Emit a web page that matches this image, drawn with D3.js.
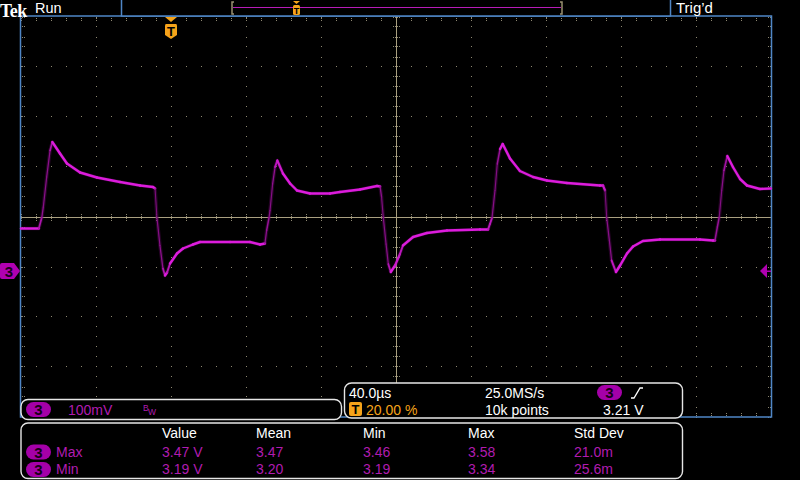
<!DOCTYPE html>
<html><head><meta charset="utf-8">
<script src="https://cdn.jsdelivr.net/npm/d3@7"></script>
<style>html,body{margin:0;background:#000;overflow:hidden}svg{display:block}</style>
</head><body>
<svg id="c" width="800" height="480"></svg>
<script>
// ---- data ----
const timeUs = [-80,-70.5,-68.9,-68.1,-66.3,-64.5,-63.3,-59.2,-55.5,-48.5,-39.5,-27.2,-16.5,-9.6,-8.5,-7.5,-5.9,-4.3,-3.2,-2.1,-0.5,3.2,6.4,11.7,15.5,31.5,42.1,47.5,50.1,51,52.3,52.8,54.2,55.5,56.7,59.7,63.5,67.2,74.1,84.8,90.1,100.8,109.9,111.5,112.3,113.2,114.7,115.9,117.2,119.5,122.1,123.7,129.1,136.5,147.2,164.8,169.1,170.1,171.2,172.8,174,175.5,176.9,180.8,186.1,193.1,200.5,211.2,228.8,230.4,231.5,232.4,233.8,235,237.3,239.5,243.2,246.4,251.7,260.8,282.1,289.1,290.1,291.4,292.4,293.7,294.9,296.7,299.7,303.5,307.2,314.1,320];
const volts = [3.294,3.294,3.316,3.337,3.397,3.45,3.467,3.444,3.424,3.406,3.396,3.387,3.38,3.377,3.374,3.316,3.26,3.214,3.20,3.206,3.224,3.244,3.254,3.262,3.267,3.267,3.267,3.262,3.264,3.29,3.316,3.33,3.383,3.417,3.43,3.404,3.384,3.37,3.364,3.364,3.367,3.372,3.379,3.378,3.357,3.317,3.263,3.223,3.207,3.22,3.243,3.26,3.277,3.285,3.29,3.292,3.292,3.303,3.315,3.37,3.423,3.453,3.463,3.434,3.409,3.397,3.39,3.385,3.38,3.38,3.37,3.315,3.27,3.23,3.207,3.22,3.244,3.258,3.269,3.272,3.272,3.27,3.27,3.297,3.317,3.37,3.41,3.439,3.417,3.393,3.38,3.373,3.374];
const timeDomain = [-80, 320];      // 40 µs/div, 10 div, trigger at 20 %
const voltDomain = [2.918, 3.718];  // 100 mV/div, 8 div
const timePerDiv = 40, voltPerDiv = 0.1;
const triggerTime = 0, triggerLevel = 3.21;
const measHeaders = ["Value","Mean","Min","Max","Std Dev"];
const measNames = ["Max","Min"];
const measRows = [["3.47 V","3.47","3.46","3.58","21.0m"],["3.19 V","3.20","3.19","3.34","25.6m"]];
const chScale = "100mV", horizScale = "40.0\u00b5s", trigPos = "20.00 %", sampleRate = "25.0MS/s", recLen = "10k points", trigLevelTxt = "3.21 V";

// ---- layout ----
const L = 21, R = 771, T = 16.5, B = 416.5;
const svg = d3.select("#c");
svg.append("rect").attr("width",800).attr("height",480).attr("fill","#000");
const x = d3.scaleLinear().domain(timeDomain).range([L, R]);
const y = d3.scaleLinear().domain(voltDomain).range([B, T]);
const FONT = "'Liberation Sans', Arial, sans-serif";
const DOT = "#8e8872", CEN = "#a99f80", BLUE = "#4f86c6", MAG = "#b01cb0", ORG = "#f5a31a";

const g = svg.append("g");
const xDivs = d3.range(timeDomain[0], timeDomain[1] + 1e-9, timePerDiv);
const yDivs = d3.range(0, 9).map(i => voltDomain[0] + i * voltPerDiv);
const xMinor = d3.range(timeDomain[0], timeDomain[1] + 1e-9, timePerDiv / 5);
const yMinor = d3.range(0, 41).map(i => voltDomain[0] + i * voltPerDiv / 5);
const cx = Math.round(x((timeDomain[0]+timeDomain[1])/2)), cy = y((voltDomain[0]+voltDomain[1])/2);
const dots = [];
xDivs.slice(1, -1).forEach(t => { const px = Math.round(x(t)); if (px === cx) return;
  yMinor.forEach(v => dots.push([px, Math.round(y(v))])); });
yDivs.slice(1, -1).forEach(v => { const py = Math.round(y(v)); if (Math.abs(py - cy) < 1) return;
  xMinor.forEach(t => dots.push([Math.round(x(t)), py])); });
xMinor.forEach(t => { const px = Math.round(x(t)); dots.push([px, 18],[px, 20],[px, 413],[px, 415]); });
yMinor.forEach(v => { const py = Math.round(y(v)); dots.push([22, py],[24, py],[768, py],[770, py]); });
xMinor.forEach(t => { const px = Math.round(x(t)); [-3,-1,1,3].forEach(d => dots.push([px, Math.round(cy)+d])); });
yMinor.forEach(v => { const py = Math.round(y(v)); [-3,-1,1,3].forEach(d => dots.push([cx+d, py])); });
g.selectAll("rect.d").data(dots).join("rect").attr("x", d => d[0]).attr("y", d => d[1])
  .attr("width",1).attr("height",1).attr("fill",DOT);
g.append("line").attr("x1",cx+0.5).attr("x2",cx+0.5).attr("y1",T).attr("y2",B).attr("stroke",CEN);
g.append("line").attr("x1",L).attr("x2",R).attr("y1",Math.round(cy)+0.5).attr("y2",Math.round(cy)+0.5).attr("stroke",CEN);
g.append("rect").attr("x",L-0.5).attr("y",T-0.5).attr("width",R-L+1).attr("height",B-T+1)
  .attr("fill","none").attr("stroke",BLUE).attr("stroke-width",1.5);

// ---- trace ----
const pts = timeUs.map((t,i) => [x(t), y(volts[i])]);
const tr = svg.append("g");
tr.append("path").attr("d", d3.line()(pts)).attr("fill","none").attr("stroke","#6a0a6a")
  .attr("stroke-width",3.6).attr("stroke-opacity",0.35).attr("stroke-linejoin","round");
const segs = d3.pairs(pts);
const col = d3.interpolateRgb("#6e0c6e", "#dc1cdc");
segs.forEach(([a,b]) => {
  const dx = Math.abs(b[0]-a[0]), dy = Math.abs(b[1]-a[1]);
  const f = Math.max(0.12, Math.min(1, 2.0 / (dy / Math.max(dx, 0.01))));
  tr.append("line").attr("x1",a[0]).attr("y1",a[1]).attr("x2",b[0]).attr("y2",b[1])
    .attr("stroke", col(f)).attr("stroke-width", 0.9 + 1.5*f).attr("stroke-linecap","round");
});

// ---- markers ----
const my = Math.round(y(triggerLevel));
svg.append("path").attr("d",`M2,${my-8} L14,${my-8} L20,${my} L14,${my+8} L2,${my+8} Q0,${my+8} 0,${my+6} L0,${my-6} Q0,${my-8} 2,${my-8} Z`).attr("fill","#b000b0");
svg.append("text").attr("x",9).attr("y",my+6).attr("text-anchor","middle").attr("font-family",FONT)
  .attr("font-weight","bold").attr("font-size",15).attr("fill","#1a001a").text("3");
svg.append("path").attr("d",`M760,${my} L767,${my-7} L767,${my+7} Z M767,${my-0.5} L771,${my-0.5} L771,${my+1} L767,${my+1} Z`).attr("fill","#b000b0");
const tx = Math.round(x(triggerTime));
svg.append("path").attr("d",`M${tx-6},17 L${tx+6},17 L${tx},22 Z`).attr("fill",ORG);
svg.append("path").attr("d",`M${tx-5},24 L${tx+5},24 Q${tx+6},24 ${tx+6},26 L${tx+6},35 L${tx},39 L${tx-6},35 L${tx-6},26 Q${tx-6},24 ${tx-5},24 Z`).attr("fill",ORG);
svg.append("text").attr("x",tx).attr("y",36).attr("text-anchor","middle").attr("font-family",FONT)
  .attr("font-weight","bold").attr("font-size",13).attr("fill","#000").text("T");

// ---- header ----
svg.append("text").attr("x",0).attr("y",16.5).attr("font-family","'Liberation Serif', serif").attr("font-weight","bold")
  .attr("font-size",18).attr("letter-spacing",-0.6).attr("fill","#fff").text("Tek");
svg.append("text").attr("x",35).attr("y",13).attr("font-family",FONT).attr("font-size",14.5).attr("fill","#fff").text("Run");
svg.append("rect").attr("x",121.5).attr("y",-1).attr("width",549).attr("height",17).attr("fill","#000").attr("stroke",BLUE).attr("stroke-width",1.5);
svg.append("line").attr("x1",233).attr("x2",561).attr("y1",7.5).attr("y2",7.5).attr("stroke","#b81cb8").attr("stroke-width",1.2);
svg.append("path").attr("d","M234,2 L232,2 L232,14 L234,14 M560,2 L562,2 L562,14 L560,14").attr("fill","none").attr("stroke","#9a9070").attr("stroke-width",1.5);
svg.append("path").attr("d","M293,1 L300,1 L296.5,4 Z").attr("fill",ORG);
svg.append("rect").attr("x",293).attr("y",5).attr("width",7).attr("height",10).attr("rx",1.5).attr("fill",ORG);
svg.append("text").attr("x",296.5).attr("y",13.5).attr("text-anchor","middle").attr("font-family",FONT).attr("font-weight","bold").attr("font-size",9).attr("fill","#000").text("T");
svg.append("text").attr("x",676).attr("y",13).attr("font-family",FONT).attr("font-size",15).attr("fill","#fff").text("Trig\u2019d");

// ---- bottom panels ----
function panel(x0,y0,x1,y1){
  svg.append("rect").attr("x",x0).attr("y",y0).attr("width",x1-x0).attr("height",y1-y0).attr("rx",7)
    .attr("fill","#000").attr("stroke","#e6e6e6").attr("stroke-width",1.4);
}
function badge(x0,yc,label){
  svg.append("rect").attr("x",x0).attr("y",yc-7.5).attr("width",25).attr("height",15).attr("rx",7.5).attr("fill","#a400a8");
  svg.append("text").attr("x",x0+12.5).attr("y",yc+5.5).attr("text-anchor","middle").attr("font-family",FONT)
    .attr("font-weight","bold").attr("font-size",15).attr("fill","#160016").text(label);
}
function txt(x0,y0,s,fill,size){
  return svg.append("text").attr("x",x0).attr("y",y0).attr("font-family",FONT).attr("font-size",size||14).attr("fill",fill).text(s);
}
panel(21,399.5,341.5,419.5);
badge(26,409.5,"3");
txt(68,415,chScale,MAG);
txt(143,411,"B",MAG,8.5); txt(148,415,"W",MAG,8.5);

panel(344.5,383,682.5,418);
txt(349,398,horizScale,"#fff");
svg.append("rect").attr("x",349).attr("y",402).attr("width",13).attr("height",14).attr("rx",2).attr("fill",ORG);
svg.append("text").attr("x",355.5).attr("y",414).attr("text-anchor","middle").attr("font-family",FONT).attr("font-weight","bold").attr("font-size",13).attr("fill","#000").text("T");
txt(366,415,trigPos,ORG);
txt(485,398,sampleRate,"#fff");
txt(485,415,recLen,"#fff");
badge(597,392.5,"3");
svg.append("path").attr("d","M631,398 L634,398 L640,388 L643,388").attr("fill","none").attr("stroke","#fff").attr("stroke-width",1.3);
txt(603,415,trigLevelTxt,"#fff");

panel(21,423,682.5,478.5);
const colX = [162,256,363,468,574];
measHeaders.forEach((h,i) => txt(colX[i],438,h,"#fff"));
measNames.forEach((n,r) => {
  const yy = 456.5 + r*17.5;
  badge(26,yy-4.5,"3");
  txt(56,yy,n,MAG);
  measRows[r].forEach((v,i) => txt(colX[i],yy,v,MAG));
});
</script>
</body></html>
